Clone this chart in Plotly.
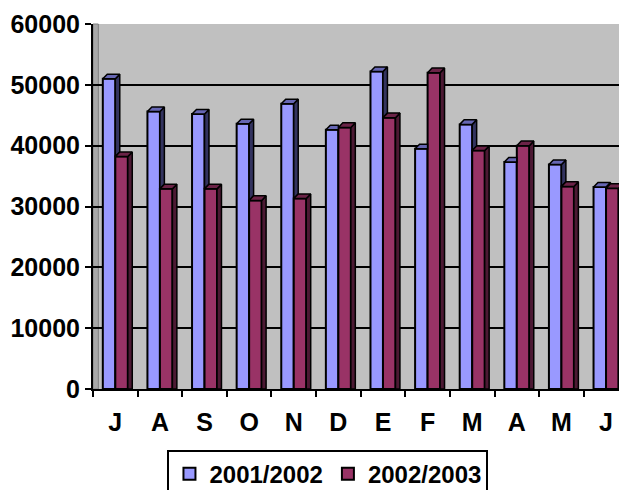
import plotly.graph_objects as go

months = ["J", "A", "S", "O", "N", "D", "E", "F", "M", "A", "M", "J"]
series_names = ["2001/2002", "2002/2003"]
values_0102 = [51000, 45600, 45200, 43600, 46900, 42600, 52200, 39500, 43500, 37300, 36900, 33200]
values_0203 = [38200, 32900, 32900, 31000, 31300, 43000, 44600, 52000, 39200, 40000, 33300, 33000]
y_ticks = [0, 10000, 20000, 30000, 40000, 50000, 60000]

front_colors = ["#9999FF", "#993366"]
top_colors = ["#6666B3", "#6B2347"]
side_colors = ["#33335F", "#4C1933"]

x = list(range(len(months)))
bar_w = 0.28
offsets = [-0.28, 0.0]
dx = 0.10   # 3D depth, category units
dy = 750    # 3D depth, value units

fig = go.Figure()
all_vals = [values_0102, values_0203]


def faces(k):
    vals = all_vals[k]
    tx, ty, sx, sy = [], [], [], []
    for i, v in enumerate(vals):
        xl = x[i] + offsets[k]
        xr = xl + bar_w
        nxt = all_vals[k + 1][i] if k + 1 < len(all_vals) else None
        if nxt is None:
            tx += [xl, xl + dx, xr + dx, xr, xl, None]
            ty += [v, v + dy, v + dy, v, v, None]
            sx += [xr, xr + dx, xr + dx, xr, xr, None]
            sy += [v, v + dy, 0, 0, v, None]
        else:
            if nxt >= v:
                tx += [xl, xl + dx, xr, xr, xl, None]
                ty += [v, v + dy, v + dy, v, v, None]
            else:
                tx += [xl, xl + dx, xr + dx, xr, xl, None]
                ty += [v, v + dy, v + dy, v, v, None]
                sx += [xr, xr + dx, xr + dx, xr, xr, None]
                sy += [v, v + dy, nxt + dy, nxt, v, None]
    return tx, ty, sx, sy


for k, vals in enumerate(all_vals):
    fig.add_trace(go.Bar(
        x=x, y=vals, width=bar_w, offset=offsets[k], name=series_names[k],
        marker=dict(color=front_colors[k], line=dict(color="black", width=2))))

for k in range(len(all_vals)):
    tx, ty, sx, sy = faces(k)
    if sx:
        fig.add_trace(go.Scatter(x=sx, y=sy, mode="lines", fill="toself",
                                 fillcolor=side_colors[k], line=dict(color="black", width=1.5),
                                 showlegend=False, hoverinfo="skip"))
    fig.add_trace(go.Scatter(x=tx, y=ty, mode="lines", fill="toself",
                             fillcolor=top_colors[k], line=dict(color="black", width=1.5),
                             showlegend=False, hoverinfo="skip"))

font_b = dict(family="Liberation Sans, Arial, sans-serif", size=25, color="black", weight="bold")
font_leg = dict(family="Liberation Sans, Arial, sans-serif", size=24, color="black", weight="bold")

fig.update_layout(
    width=619, height=482,
    margin=dict(l=85, r=0, t=16, b=101, autoexpand=False),
    paper_bgcolor="white", plot_bgcolor="#C0C0C0",
    barmode="overlay",
    font=font_b,
    showlegend=True,
    legend=dict(orientation="h", x=0.44, xanchor="center", y=-0.166, yanchor="top",
                bordercolor="black", borderwidth=2, bgcolor="white",
                font=font_leg, traceorder="normal", itemwidth=30),
    xaxis=dict(range=[-0.5, 11.47], tickvals=x, ticktext=months, ticks="",
               showgrid=False, zeroline=False, showline=True, linecolor="black", linewidth=2,
               tickfont=font_b, ticklabelstandoff=10, automargin=False,
               minor=dict(tick0=-0.5, dtick=1, ticks="outside", ticklen=6, tickwidth=2,
                          tickcolor="black", showgrid=False)),
    yaxis=dict(range=[0, 60000], tickvals=y_ticks, ticks="outside", ticklen=6, tickwidth=2,
               tickcolor="black", showgrid=True, gridcolor="black", gridwidth=1.5,
               zeroline=False, showline=True, linecolor="black", linewidth=2,
               tickfont=font_b, tickformat="d", automargin=False),
)
# left side wall strip
fig.add_shape(type="rect", xref="paper", yref="paper", x0=0, x1=0.01, y0=0, y1=1,
              fillcolor="#A8A8A8", line=dict(color="#808080", width=1), layer="below")

fig.write_html("out.html")
